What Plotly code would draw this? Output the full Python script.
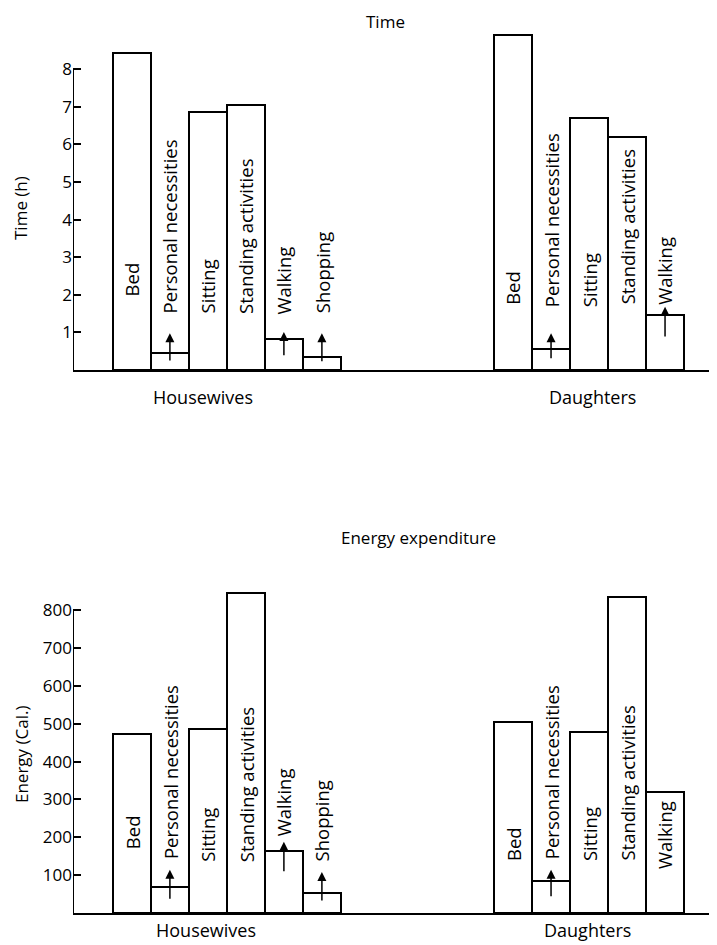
import plotly.graph_objects as go

# ---- data ----
groups = ["Housewives", "Daughters"]
hw_activities = ["Bed", "Personal necessities", "Sitting", "Standing activities", "Walking", "Shopping"]
dt_activities = ["Bed", "Personal necessities", "Sitting", "Standing activities", "Walking"]

hw_time = [8.43, 0.45, 6.86, 7.04, 0.82, 0.35]
dt_time = [8.91, 0.56, 6.70, 6.20, 1.46]

hw_energy = [473, 69, 486, 845, 164, 53]
dt_energy = [504, 85, 478, 835, 320]

time_ticks = [1, 2, 3, 4, 5, 6, 7, 8]
energy_ticks = [100, 200, 300, 400, 500, 600, 700, 800]

# ---- layout helpers ----
OFF = 8  # default page body margin
W, H = 717 - OFF, 945 - OFF
FONT = "Open Sans"
hw_start, dt_start = 1.05, 11.08
hw_x = [hw_start + 0.5 + i for i in range(len(hw_activities))]
dt_x = [dt_start + 0.5 + i for i in range(len(dt_activities))]
XMAX = (717 - 73) / 38.0


def py(p):
    return 1 - (p - OFF) / H


def px(p):
    return (p - OFF) / W


fig = go.Figure()

panels = [
    dict(xa="x", ya="y", hw=hw_time, dt=dt_time, ticks=time_ticks,
         base=370, top=30, per=37.6, title="Time", title_xy=(386, 8),
         ytitle="Time (h)", ytitle_y=208, group_y=397, group_x=(3.42, 13.66),
         hw_lab=[1.9, 1.45, 1.45, 1.45, 1.42, 1.47], dt_lab=[1.68, 1.62, 1.62, 1.68, 1.68],
         arrows=[(hw_x[1], 0.21, 0.98), (hw_x[4], 0.35, 1.01), (hw_x[5], 0.19, 0.98),
                 (dt_x[1], 0.27, 0.98), (dt_x[4], 0.85, 1.68)],
         axis_top=8),
    dict(xa="x2", ya="y2", hw=hw_energy, dt=dt_energy, ticks=energy_ticks,
         base=913, top=560, per=0.3786, title="Energy expenditure", title_xy=(418, 524),
         ytitle="Energy (Cal.)", ytitle_y=755, group_y=930, group_x=(3.5, 13.55),
         hw_lab=[163, 137, 130, 130, 197, 132], dt_lab=[132, 137, 132, 132, 111],
         arrows=[(hw_x[1], 34, 114), (hw_x[4], 106, 188), (hw_x[5], 29, 108),
                 (dt_x[1], 40, 114)],
         axis_top=800),
]

annotations = []
shapes = []
for k, p in enumerate(panels):
    for xs, vals in ((hw_x, p["hw"]), (dt_x, p["dt"])):
        fig.add_trace(go.Bar(
            x=xs, y=vals, width=1.0, xaxis=p["xa"], yaxis=p["ya"],
            marker=dict(color="white", line=dict(color="black", width=2)),
            showlegend=False, hoverinfo="skip"))
    # bar labels
    for xs, names, laby in ((hw_x, hw_activities, p["hw_lab"]), (dt_x, dt_activities, p["dt_lab"])):
        for xv, name, yv in zip(xs, names, laby):
            annotations.append(dict(
                x=xv, y=yv, xref=p["xa"], yref=p["ya"], text=name, textangle=-90,
                showarrow=False, xanchor="center", yanchor="bottom",
                font=dict(family=FONT, size=18.5, color="black")))
    # arrows
    for xv, y0, y1 in p["arrows"]:
        annotations.append(dict(
            x=xv, y=y1, ax=xv, ay=y0, xref=p["xa"], yref=p["ya"],
            axref=p["xa"], ayref=p["ya"], text="", showarrow=True,
            arrowhead=2, arrowsize=1.2, arrowwidth=1.5, arrowcolor="black"))
    # titles
    annotations.append(dict(x=px(p["title_xy"][0]), y=py(p["title_xy"][1]), xref="paper", yref="paper",
                            text=p["title"], showarrow=False, xanchor="center", yanchor="top",
                            font=dict(family=FONT, size=17, color="black")))
    annotations.append(dict(x=px(21), y=py(p["ytitle_y"]), xref="paper", yref="paper",
                            text=p["ytitle"], textangle=-90, showarrow=False,
                            xanchor="center", yanchor="middle",
                            font=dict(family=FONT, size=17, color="black")))
    for gx, gname in zip(p["group_x"], groups):
        annotations.append(dict(x=gx, y=py(p["group_y"]), xref=p["xa"], yref="paper",
                                text=gname, showarrow=False, xanchor="center", yanchor="middle",
                                font=dict(family=FONT, size=18, color="black")))
    # y axis line only up to the last tick
    shapes.append(dict(type="line", xref=p["xa"], yref=p["ya"], x0=0, x1=0, y0=0, y1=p["axis_top"],
                       line=dict(color="black", width=2)))

    ymax = (p["base"] - p["top"]) / p["per"]
    yname = "yaxis" if k == 0 else "yaxis2"
    xname = "xaxis" if k == 0 else "xaxis2"
    fig.update_layout(**{
        xname: dict(domain=[px(73), 1], range=[0, XMAX], showline=True, linecolor="black",
                    linewidth=2, showticklabels=False, ticks="", showgrid=False, zeroline=False,
                    anchor=p["ya"]),
        yname: dict(domain=[py(p["base"]), py(p["top"])], range=[0, ymax], tickvals=p["ticks"],
                    ticks="inside", ticklen=8, tickwidth=2, tickcolor="black", showline=False,
                    showgrid=False, zeroline=False, anchor=p["xa"],
                    tickfont=dict(family=FONT, size=17, color="black")),
    })

fig.update_layout(
    width=W, height=H, margin=dict(l=0, r=0, t=0, b=0),
    paper_bgcolor="white", plot_bgcolor="white", bargap=0,
    annotations=annotations, shapes=shapes,
)

fig.write_html("out.html")
